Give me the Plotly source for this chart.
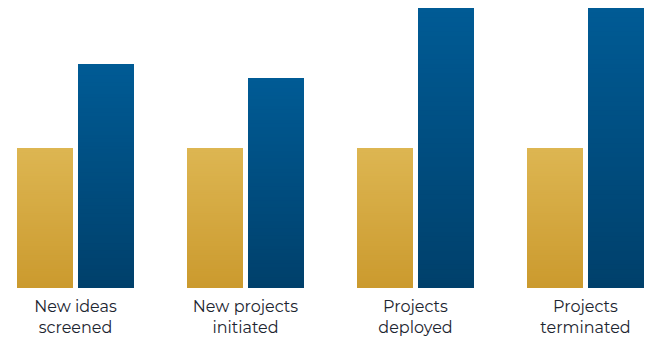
import plotly.graph_objects as go

categories = ["New ideas<br>screened", "New projects<br>initiated", "Projects<br>deployed", "Projects<br>terminated"]
series_a = [100, 100, 100, 100]   # gold
series_b = [160, 150, 200, 200]   # blue

N = 60  # gradient steps


def lerp(c1, c2, t):
    return "rgb(%d,%d,%d)" % tuple(round(a + (b - a) * t) for a, b in zip(c1, c2))


def gradient_trace(values, bottom, top, offset, width):
    # overlapping bars, tallest (top colour) drawn first, shorter darker ones on top
    xs, ys, cols = [], [], []
    for i in range(N, 0, -1):
        for cat, v in zip(categories, values):
            xs.append(cat)
            ys.append(v * i / N)
            cols.append(lerp(bottom, top, (i - 0.5) / N))
    return go.Bar(x=xs, y=ys, offset=offset, width=width,
                  marker=dict(color=cols, line=dict(width=0)),
                  showlegend=False, hoverinfo="skip")


W = 56 / 170
fig = go.Figure()
fig.add_trace(gradient_trace(series_a, (203, 154, 46), (221, 182, 82), -2.5 / 170 - W, W))
fig.add_trace(gradient_trace(series_b, (0, 64, 107), (0, 91, 149), 2.5 / 170, W))

FW, FH = 656, 353
fig.update_layout(
    width=FW, height=FH,
    margin=dict(l=0, r=0, t=0, b=73),
    barmode="overlay",
    plot_bgcolor="white", paper_bgcolor="white",
    font=dict(family="Montserrat, sans-serif", size=16, color="#1c2530"),
)
fig.update_xaxes(type="category", range=[-67.5 / 170, (FW - 67.5) / 170],
                 showgrid=False, zeroline=False, showline=False, ticks="",
                 ticklabelstandoff=7, automargin=False,
                 tickfont=dict(size=16), fixedrange=True)
fig.update_yaxes(range=[0, 200], visible=False, fixedrange=True)

fig.write_html("out.html", config=dict(displayModeBar=False))
